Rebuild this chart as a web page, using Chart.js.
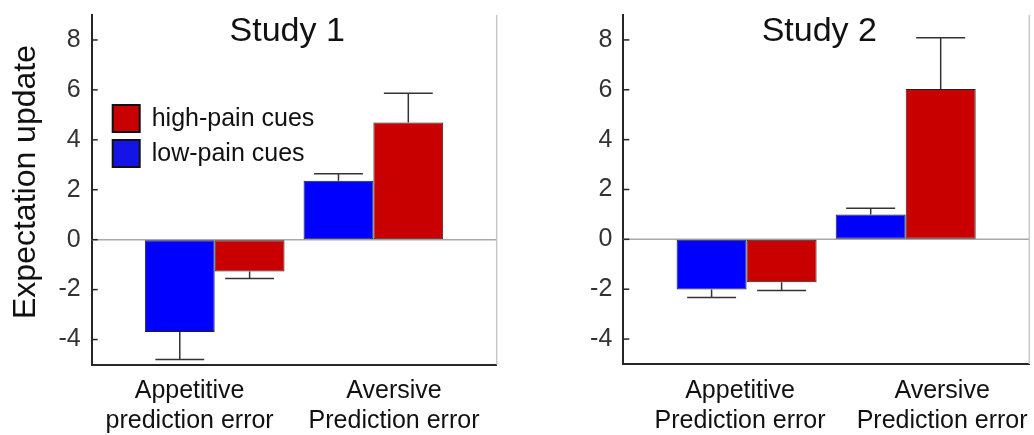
<!DOCTYPE html>
<html>
<head>
<meta charset="utf-8">
<script src="https://cdn.jsdelivr.net/npm/chart.js@4"></script>
<style>
  html, body { margin: 0; padding: 0; background: #fff; }
  #wrap { position: relative; width: 1034px; height: 435px; }
  .panel { position: absolute; top: 0; width: 517px; height: 435px; }
</style>
</head>
<body>
<div id="wrap">
  <div class="panel" style="left:0"><canvas id="study1"></canvas></div>
  <div class="panel" style="left:517px"><canvas id="study2"></canvas></div>
</div>
<script>
const seriesNames = ['low-pain cues', 'high-pain cues'];
const xLabels1 = [['Appetitive', 'prediction error'], ['Aversive', 'Prediction error']];
const xLabels2 = [['Appetitive', 'Prediction error'], ['Aversive', 'Prediction error']];
const yTicks = [-4, -2, 0, 2, 4, 6, 8];

// Study 1 means and error bars (one-sided, away from zero)
const study1Low = [-3.70, 2.36];
const study1LowErr = [1.10, 0.28];
const study1High = [-1.27, 4.69];
const study1HighErr = [0.29, 1.18];

// Study 2
const study2Low = [-2.01, 1.00];
const study2LowErr = [0.32, 0.25];
const study2High = [-1.72, 6.03];
const study2HighErr = [0.33, 2.06];

const FONT = '"Liberation Sans", Arial, Helvetica, sans-serif';
const BLUE = '#0000ff';
const RED = '#c80000';

const decorations = {
  id: 'decorations',
  beforeDatasetsDraw(chart) {
    const { ctx, chartArea: a, scales: { y } } = chart;
    ctx.save();
    // zero line
    ctx.strokeStyle = '#a8a8a8';
    ctx.lineWidth = 1.5;
    const y0 = y.getPixelForValue(0);
    ctx.beginPath();
    ctx.moveTo(a.left, y0);
    ctx.lineTo(a.right, y0);
    ctx.stroke();
    // light right edge
    ctx.strokeStyle = '#c8c8c8';
    ctx.lineWidth = 1.5;
    ctx.beginPath();
    ctx.moveTo(a.right, a.top);
    ctx.lineTo(a.right, a.bottom);
    ctx.stroke();
    ctx.restore();
  },
  afterDatasetsDraw(chart, args, opts) {
    const { ctx, chartArea: a, scales: { y } } = chart;
    ctx.save();
    // error bars
    ctx.strokeStyle = '#333';
    ctx.lineWidth = 1.5;
    chart.data.datasets.forEach((ds, di) => {
      const meta = chart.getDatasetMeta(di);
      meta.data.forEach((bar, i) => {
        const v = ds.data[i].y;
        const tip = y.getPixelForValue(v + Math.sign(v) * ds.errors[i]);
        const half = bar.width * 0.35;
        ctx.beginPath();
        ctx.moveTo(bar.x, bar.y);
        ctx.lineTo(bar.x, tip);
        ctx.moveTo(bar.x - half, tip);
        ctx.lineTo(bar.x + half, tip);
        ctx.stroke();
      });
    });
    // inward ticks on y axis
    ctx.strokeStyle = '#262626';
    ctx.lineWidth = 1.5;
    yTicks.forEach(t => {
      const py = y.getPixelForValue(t);
      ctx.beginPath();
      ctx.moveTo(a.left, py);
      ctx.lineTo(a.left + 6, py);
      ctx.stroke();
    });
    // panel title
    ctx.fillStyle = '#111';
    ctx.font = '34px ' + FONT;
    ctx.textAlign = 'center';
    ctx.textBaseline = 'middle';
    ctx.fillText(opts.title, (a.left + a.right) / 2 - 7, 32);
    // y axis title
    if (opts.yTitle) {
      ctx.save();
      ctx.translate(26, 182);
      ctx.rotate(-Math.PI / 2);
      ctx.font = '32px ' + FONT;
      ctx.fillText(opts.yTitle, 0, 0);
      ctx.restore();
    }
    // legend inside the plot
    if (opts.legend) {
      const items = [[seriesNames[1], RED], [seriesNames[0], '#1414e6']];
      ctx.font = '25px ' + FONT;
      ctx.textAlign = 'left';
      items.forEach(([name, col], k) => {
        const bx = a.left + 21, by = 105 + k * 35;
        ctx.fillStyle = col;
        ctx.fillRect(bx, by, 27, 27);
        ctx.strokeStyle = '#111';
        ctx.lineWidth = 2;
        ctx.strokeRect(bx, by, 27, 27);
        ctx.fillStyle = '#111';
        ctx.fillText(name, bx + 39, by + 14);
      });
    }
    ctx.restore();
  }
};

function makeChart(id, low, lowErr, high, highErr, opts) {
  return new Chart(document.getElementById(id), {
    type: 'bar',
    data: {
      datasets: [
        {
          label: seriesNames[0],
          data: low.map((v, i) => ({ x: i + 1, y: v })),
          errors: lowErr,
          backgroundColor: BLUE,
          borderColor: '#222',
          borderWidth: 1,
          borderSkipped: false
        },
        {
          label: seriesNames[1],
          data: high.map((v, i) => ({ x: i + 1, y: v })),
          errors: highErr,
          backgroundColor: RED,
          borderColor: '#222',
          borderWidth: 1,
          borderSkipped: false
        }
      ]
    },
    options: {
      responsive: true,
      maintainAspectRatio: false,
      animation: false,
      categoryPercentage: 0.88,
      barPercentage: 1,
      layout: { padding: { left: 0, top: 15, right: opts.padRight, bottom: 0 } },
      plugins: {
        legend: { display: false },
        tooltip: { enabled: false },
        decorations: { title: opts.title, yTitle: opts.yTitle, legend: opts.legend }
      },
      scales: {
        x: {
          type: 'linear',
          offset: false,
          min: 0.225,
          max: 2.777,
          afterBuildTicks: s => { s.ticks = opts.labelPos.map(v => ({ value: v })); },
          afterFit: s => { s.height = opts.xHeight; s.paddingLeft = 0; s.paddingRight = 0; },
          grid: { display: true, offset: false, drawOnChartArea: false, drawTicks: false },
          border: { color: '#262626', width: 2 },
          ticks: {
            autoSkip: false,
            maxRotation: 0,
            padding: 12,
            color: '#111',
            font: { family: FONT, size: 25 },
            callback: (v, i) => opts.labels[i]
          }
        },
        y: {
          min: -5,
          max: 9,
          afterBuildTicks: s => { s.ticks = yTicks.map(v => ({ value: v })); },
          afterFit: s => { s.width = opts.yWidth; s.paddingTop = 0; s.paddingBottom = 0; },
          grid: { display: true, drawOnChartArea: false, drawTicks: false },
          border: { color: '#262626', width: 2 },
          ticks: { padding: 11, color: '#333', font: { family: FONT, size: 25 } }
        }
      }
    },
    plugins: [decorations]
  });
}

makeChart('study1', study1Low, study1LowErr, study1High, study1HighErr, {
  title: 'Study 1', yTitle: 'Expectation update', legend: true,
  labels: xLabels1, labelPos: [0.842, 2.13],
  padRight: 20.3, yWidth: 91.7, xHeight: 70.5
});
makeChart('study2', study2Low, study2LowErr, study2High, study2HighErr, {
  title: 'Study 2', yTitle: null, legend: false,
  labels: xLabels2, labelPos: [0.959, 2.229],
  padRight: 4.7, yWidth: 106.3, xHeight: 71
});
</script>
</body>
</html>
